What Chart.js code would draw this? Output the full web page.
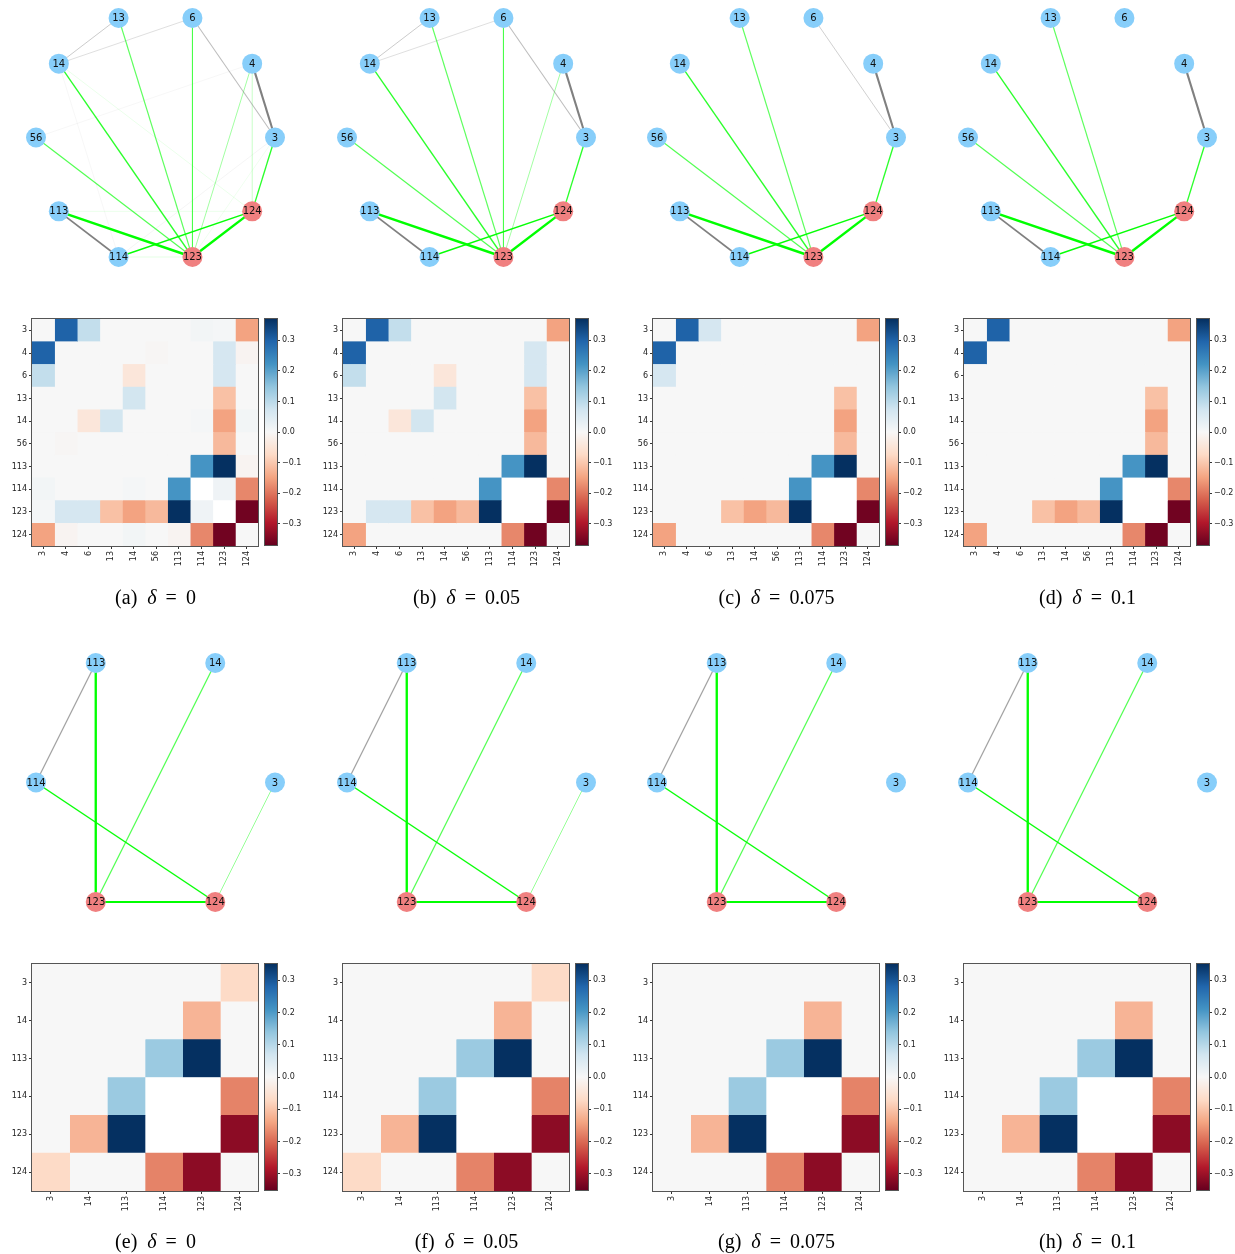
<!DOCTYPE html>
<html>
<head>
<meta charset="utf-8">
<script src="https://cdn.jsdelivr.net/npm/chart.js@4.4.0/dist/chart.umd.min.js"></script>
<style>
  body { margin: 0; background: #fff; width: 1235px; height: 1254px; position: relative; overflow: hidden; }
  .box { position: absolute; }
  .cap { position: absolute; width: 311px; text-align: center; font-family: 'Liberation Serif', 'Times New Roman', serif; font-size: 20px; line-height: 20px; color: #000; }
</style>
</head>
<body>
<script>
// node lists (sorted, as in the circular layouts)
const topNodes = ['3', '4', '6', '13', '14', '56', '113', '114', '123', '124'];
const bottomNodes = ['3', '14', '113', '114', '123', '124'];
const targetNodes = ['123', '124'];

// precision-like matrices (null = empty white cell)
const matA = [
  [0, 0.30, 0.09, 0, 0, 0, 0, 0.01, 0.005, -0.15],
  [0.30, 0, 0, 0, 0, -0.005, 0, 0, 0.065, -0.01],
  [0.09, 0, 0, 0, -0.045, 0, 0, 0, 0.065, 0],
  [0, 0, 0, 0, 0.07, 0, 0, 0, -0.11, 0],
  [0, 0, -0.045, 0.07, 0, 0, 0, 0.005, -0.15, 0.01],
  [0, -0.005, 0, 0, 0, 0, 0, 0, -0.12, 0],
  [0, 0, 0, 0, 0, 0, 0, 0.22, 0.37, -0.01],
  [0.01, 0, 0, 0, 0.005, 0, 0.22, null, 0.015, -0.18],
  [0.005, 0.065, 0.065, -0.11, -0.15, -0.12, 0.37, 0.015, null, -0.36],
  [-0.15, -0.01, 0, 0, 0.01, 0, -0.01, -0.18, -0.36, 0]
];
const matB = [
  [0, 0.30, 0.09, 0, 0, 0, 0, 0, 0, -0.15],
  [0.30, 0, 0, 0, 0, 0, 0, 0, 0.065, 0],
  [0.09, 0, 0, 0, -0.045, 0, 0, 0, 0.065, 0],
  [0, 0, 0, 0, 0.07, 0, 0, 0, -0.11, 0],
  [0, 0, -0.045, 0.07, 0, 0, 0, 0, -0.15, 0],
  [0, 0, 0, 0, 0, 0, 0, 0, -0.12, 0],
  [0, 0, 0, 0, 0, 0, 0, 0.22, 0.37, 0],
  [0, 0, 0, 0, 0, 0, 0.22, null, null, -0.18],
  [0, 0.065, 0.065, -0.11, -0.15, -0.12, 0.37, null, null, -0.36],
  [-0.15, 0, 0, 0, 0, 0, 0, -0.18, -0.36, 0]
];
const matC = [
  [0, 0.30, 0.065, 0, 0, 0, 0, 0, 0, -0.15],
  [0.30, 0, 0, 0, 0, 0, 0, 0, 0, 0],
  [0.065, 0, 0, 0, 0, 0, 0, 0, 0, 0],
  [0, 0, 0, 0, 0, 0, 0, 0, -0.11, 0],
  [0, 0, 0, 0, 0, 0, 0, 0, -0.15, 0],
  [0, 0, 0, 0, 0, 0, 0, 0, -0.12, 0],
  [0, 0, 0, 0, 0, 0, 0, 0.22, 0.37, 0],
  [0, 0, 0, 0, 0, 0, 0.22, null, null, -0.18],
  [0, 0, 0, -0.11, -0.15, -0.12, 0.37, null, null, -0.36],
  [-0.15, 0, 0, 0, 0, 0, 0, -0.18, -0.36, 0]
];
const matD = [
  [0, 0.30, 0, 0, 0, 0, 0, 0, 0, -0.15],
  [0.30, 0, 0, 0, 0, 0, 0, 0, 0, 0],
  [0, 0, 0, 0, 0, 0, 0, 0, 0, 0],
  [0, 0, 0, 0, 0, 0, 0, 0, -0.11, 0],
  [0, 0, 0, 0, 0, 0, 0, 0, -0.15, 0],
  [0, 0, 0, 0, 0, 0, 0, 0, -0.12, 0],
  [0, 0, 0, 0, 0, 0, 0, 0.22, 0.37, 0],
  [0, 0, 0, 0, 0, 0, 0.22, null, null, -0.18],
  [0, 0, 0, -0.11, -0.15, -0.12, 0.37, null, null, -0.36],
  [-0.15, 0, 0, 0, 0, 0, 0, -0.18, -0.36, 0]
];
const matE = [
  [0, 0, 0, 0, 0, -0.07],
  [0, 0, 0, 0, -0.12, 0],
  [0, 0, 0, 0.13, 0.35, 0],
  [0, 0, 0.13, null, null, -0.175],
  [0, -0.12, 0.35, null, null, -0.315],
  [-0.07, 0, 0, -0.175, -0.315, 0]
];
const matF = [
  [0, 0, 0, 0, 0, -0.07],
  [0, 0, 0, 0, -0.12, 0],
  [0, 0, 0, 0.13, 0.35, 0],
  [0, 0, 0.13, null, null, -0.175],
  [0, -0.12, 0.35, null, null, -0.315],
  [-0.07, 0, 0, -0.175, -0.315, 0]
];
const matG = [
  [0, 0, 0, 0, 0, 0],
  [0, 0, 0, 0, -0.12, 0],
  [0, 0, 0, 0.13, 0.35, 0],
  [0, 0, 0.13, null, null, -0.175],
  [0, -0.12, 0.35, null, null, -0.315],
  [0, 0, 0, -0.175, -0.315, 0]
];
const matH = [
  [0, 0, 0, 0, 0, 0],
  [0, 0, 0, 0, -0.12, 0],
  [0, 0, 0, 0.13, 0.35, 0],
  [0, 0, 0.13, null, null, -0.175],
  [0, -0.12, 0.35, null, null, -0.315],
  [0, 0, 0, -0.175, -0.315, 0]
];

const panelTags = ['a', 'b', 'c', 'd', 'e', 'f', 'g', 'h'];
const deltas = ['0', '0.05', '0.075', '0.1', '0', '0.05', '0.075', '0.1'];
const colorbarTicks = [0.3, 0.2, 0.1, 0, -0.1, -0.2, -0.3];
const topVmax = 0.37;
const bottomVmax = 0.35;

// matplotlib RdBu anchors
const rdbu = [[103,0,31],[178,24,43],[214,96,77],[244,165,130],[253,219,199],[247,247,247],
              [209,229,240],[146,197,222],[67,147,195],[33,102,172],[5,48,97]];

const cmap = (v, vmax) => {
    if (v === null) return '#ffffff';
    let t = Math.max(0, Math.min(1, (v + vmax) / (2 * vmax))) * 10;
    const i = Math.min(9, Math.floor(t));
    const f = t - i;
    const a = rdbu[i], b = rdbu[i + 1];
    return 'rgb(' + a.map((c, k) => Math.round(c + (b[k] - c) * f)).join(',') + ')';
};

const tickFont = { family: 'DejaVu Sans', size: 8 };

// no extra label padding, so the plot box lands where we put it
const noPad = ax => { ax.paddingTop = 0; ax.paddingBottom = 0; ax.paddingLeft = 0; ax.paddingRight = 0; };

// border around plot area (matplotlib spines)
const frame = {
    id: 'frame',
    afterDraw(chart) {
        const { ctx, chartArea: a } = chart;
        ctx.save();
        ctx.strokeStyle = '#555';
        ctx.lineWidth = 1;
        ctx.strokeRect(a.left - 0.5, a.top - 0.5, a.width + 1, a.height + 1);
        ctx.restore();
    }
};

// node labels drawn at the node points
const nodeLabels = {
    id: 'nodeLabels',
    afterDatasetsDraw(chart, args, opts) {
        const meta = chart.getDatasetMeta(chart.data.datasets.length - 1);
        const ctx = chart.ctx;
        ctx.save();
        ctx.font = '10px "DejaVu Sans"';
        ctx.fillStyle = '#111';
        ctx.textAlign = 'center';
        ctx.textBaseline = 'middle';
        meta.data.forEach((pt, i) => ctx.fillText(opts.labels[i], pt.x, pt.y + 0.5));
        ctx.restore();
    }
};

const makeCanvas = (left, top, w, h) => {
    const div = document.createElement('div');
    div.className = 'box';
    div.style.left = left + 'px';
    div.style.top = top + 'px';
    const canvas = document.createElement('canvas');
    canvas.width = w;
    canvas.height = h;
    canvas.style.width = w + 'px';
    canvas.style.height = h + 'px';
    div.appendChild(canvas);
    document.body.appendChild(div);
    return canvas;
};

// network graph, circular layout like networkx
const drawGraph = (canvas, nodes, mat) => {
    const n = nodes.length;
    const pos = nodes.map((_, i) => ({ x: Math.cos(2 * Math.PI * i / n), y: Math.sin(2 * Math.PI * i / n) }));
    const datasets = [];
    for (let i = 0; i < n; i++) {
        for (let j = i + 1; j < n; j++) {
            const v = mat[i][j];
            if (!v) continue;
            const w = Math.abs(v);
            const isTarget = targetNodes.includes(nodes[i]) || targetNodes.includes(nodes[j]);
            const alpha = Math.min(1, 0.08 + w / 0.2);
            datasets.push({
                data: [pos[i], pos[j]],
                showLine: true,
                borderColor: isTarget ? `rgba(0,255,0,${alpha})` : `rgba(128,128,128,${alpha})`,
                borderWidth: 0.6 + w * 5,
                pointRadius: 0,
                order: 1,
                clip: false
            });
        }
    }
    datasets.push({
        data: pos,
        pointRadius: 10,
        pointHoverRadius: 10,
        backgroundColor: nodes.map(nd => targetNodes.includes(nd) ? '#f08080' : '#87cefa'),
        borderWidth: 0,
        order: 0,
        clip: false
    });
    const ys = pos.map(p => p.y);
    const yMin = Math.min(...ys), yMax = Math.max(...ys);
    const k = 16 / 239;
    new Chart(canvas, {
        type: 'scatter',
        data: { datasets },
        options: {
            responsive: false,
            animation: false,
            layout: { padding: 0, autoPadding: false },
            plugins: { legend: { display: false }, tooltip: { enabled: false }, nodeLabels: { labels: nodes } },
            scales: {
                x: { display: false, min: -1 - 2 * k, max: 1 + 2 * k },
                y: { display: false, min: yMin - (yMax - yMin) * k, max: yMax + (yMax - yMin) * k }
            }
        },
        plugins: [nodeLabels]
    });
};

// heatmap as a stacked horizontal bar chart, one dataset per column
const drawHeat = (canvas, nodes, mat, vmax) => {
    new Chart(canvas, {
        type: 'bar',
        data: {
            labels: nodes,
            datasets: nodes.map((col, j) => ({
                data: nodes.map(() => 1),
                backgroundColor: nodes.map((row, i) => cmap(mat[i][j], vmax)),
                borderWidth: 0,
                barPercentage: 1,
                categoryPercentage: 1
            }))
        },
        options: {
            indexAxis: 'y',
            responsive: false,
            animation: false,
            layout: { padding: { top: 1, right: 1, left: 0, bottom: 0 }, autoPadding: false },
            plugins: { legend: { display: false }, tooltip: { enabled: false } },
            scales: {
                x: {
                    type: 'linear', stacked: true, min: 0, max: nodes.length,
                    afterBuildTicks: ax => { ax.ticks = nodes.map((_, j) => ({ value: j + 0.5 })); },
                    afterFit: ax => { ax.height = 44; noPad(ax); },
                    ticks: { callback: (v, i) => nodes[i], minRotation: 90, maxRotation: 90, autoSkip: false, font: tickFont, color: '#222', padding: 2 },
                    grid: { drawOnChartArea: false, tickLength: 3, color: '#333' },
                    border: { display: false }
                },
                y: {
                    stacked: true,
                    afterFit: ax => { ax.width = 32; noPad(ax); },
                    ticks: { font: tickFont, color: '#222', padding: 2 },
                    grid: { drawOnChartArea: false, tickLength: 3, color: '#333', offset: false },
                    border: { display: false }
                }
            }
        },
        plugins: [frame]
    });
};

// colorbar as one floating bar with an RdBu gradient
const drawColorbar = (canvas, vmax) => {
    new Chart(canvas, {
        type: 'bar',
        data: {
            labels: [''],
            datasets: [{
                data: [[-vmax, vmax]],
                backgroundColor: ctx => {
                    const a = ctx.chart.chartArea;
                    if (!a) return '#f7f7f7';
                    const g = ctx.chart.ctx.createLinearGradient(0, a.bottom, 0, a.top);
                    rdbu.forEach((c, i) => g.addColorStop(i / 10, `rgb(${c.join(',')})`));
                    return g;
                },
                borderWidth: 0,
                barPercentage: 1,
                categoryPercentage: 1
            }]
        },
        options: {
            responsive: false,
            animation: false,
            layout: { padding: { top: 1, bottom: 1, left: 1, right: 0 }, autoPadding: false },
            plugins: { legend: { display: false }, tooltip: { enabled: false } },
            scales: {
                x: { display: false },
                y: {
                    position: 'right', min: -vmax, max: vmax,
                    afterBuildTicks: ax => { ax.ticks = colorbarTicks.map(v => ({ value: v })); },
                    afterFit: ax => { ax.width = 32; noPad(ax); },
                    ticks: { callback: v => v.toFixed(1).replace('-', '\u2212').replace('\u22120.0', '0.0'), font: tickFont, color: '#222', padding: 2 },
                    grid: { drawOnChartArea: false, tickLength: 3, color: '#333' },
                    border: { display: false }
                }
            }
        },
        plugins: [frame]
    });
};

const topMats = [matA, matB, matC, matD];
const bottomMats = [matE, matF, matG, matH];

for (let p = 0; p < 8; p++) {
    const isTop = p < 4;
    const ox = Math.round((p % 4) * 310.67);
    const nodes = isTop ? topNodes : bottomNodes;
    const mat = isTop ? topMats[p] : bottomMats[p - 4];
    const vmax = isTop ? topVmax : bottomVmax;
    const graphTop = isTop ? 2 : 647;
    const heatTop = isTop ? 318 : 963;
    const capTop = isTop ? 587 : 1231;

    drawGraph(makeCanvas(ox + 20, graphTop, 271, 271), nodes, mat);
    drawHeat(makeCanvas(ox, heatTop, 259, 272), nodes, mat, vmax);
    drawColorbar(makeCanvas(ox + 264, heatTop, 45, 228), vmax);

    const cap = document.createElement('div');
    cap.className = 'cap';
    cap.style.left = ox + 'px';
    cap.style.top = capTop + 'px';
    cap.innerHTML = '(' + panelTags[p] + ')&ensp;<i>\u03b4</i>&thinsp; = &thinsp;' + deltas[p];
    document.body.appendChild(cap);
}
</script>
</body>
</html>
